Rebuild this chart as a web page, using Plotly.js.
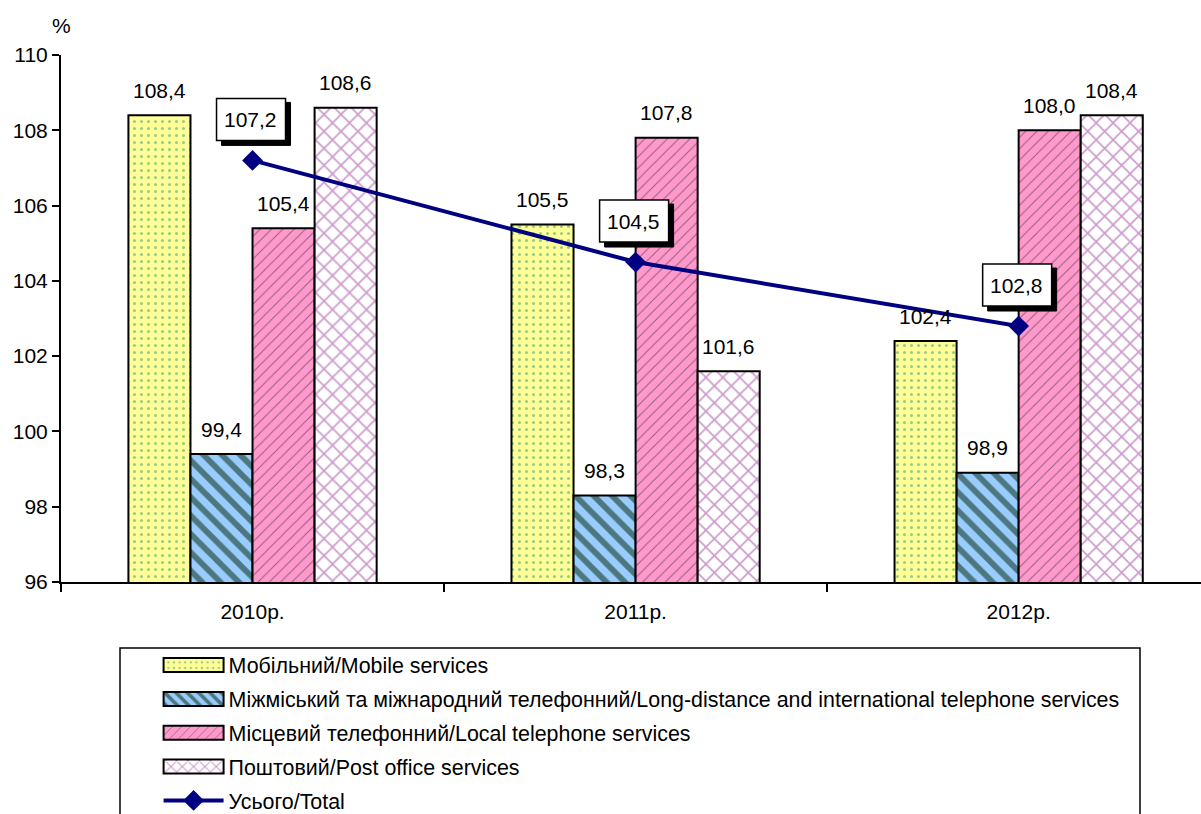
<!DOCTYPE html>
<html>
<head>
<meta charset="utf-8">
<script src="https://cdn.plot.ly/plotly-3.0.1.min.js"></script>
<style>html,body{margin:0;padding:0;background:#fff;}#chart{width:1201px;height:814px;}</style>
</head>
<body>
<div id="chart"></div>
<script>
// ---- data ----
const years = ['2010р.', '2011р.', '2012р.'];
const mobile = [108.4, 105.5, 102.4];
const longDistance = [99.4, 98.3, 98.9];
const local = [105.4, 107.8, 108.0];
const post = [108.6, 101.6, 108.4];
const total = [107.2, 104.5, 102.8];
const seriesNames = [
  'Мобільний/Mobile services',
  'Міжміський та міжнародний телефонний/Long-distance and international telephone services',
  'Місцевий телефонний/Local telephone services',
  'Поштовий/Post office services'
];
const totalName = 'Усього/Total';
const yTicks = [96, 98, 100, 102, 104, 106, 108, 110];

// ---- styles ----
const FONT = 'Liberation Sans, Arial, sans-serif';
const FS = 21;
const barW = 0.162;
const fmt = v => v.toFixed(1).replace('.', ',');
const styles = [
  {bg: '#FFFF99', fg: '#339966', shape: '.', size: 7, solidity: 0.15},
  {bg: '#99CCFF', fg: '#002200', shape: '\\', size: 13, solidity: 0.45},
  {bg: '#FF99CC', fg: '#222222', shape: '/', size: 8, solidity: 0.12},
  {bg: '#FFFFFF', fg: '#993399', shape: 'x', size: 12, solidity: 0.25}
];
const barSeries = [mobile, longDistance, local, post];

const traces = barSeries.map((vals, k) => ({
  type: 'bar',
  name: seriesNames[k],
  x: years,
  y: vals,
  legendgroup: 'g' + k,
  marker: {
    color: styles[k].bg,
    line: {color: '#000', width: 2},
    pattern: {shape: styles[k].shape, fgcolor: styles[k].fg, bgcolor: styles[k].bg,
              size: styles[k].size, solidity: styles[k].solidity, fillmode: 'overlay'}
  },
  hoverinfo: 'skip'
}));
traces.push({
  type: 'scatter', mode: 'lines+markers', name: totalName,
  x: years, y: total, legendgroup: 'g4',
  line: {color: '#000080', width: 4},
  marker: {symbol: 'diamond', size: 16, color: '#000080'},
  hoverinfo: 'skip'
});

const annotations = [];
const shapes = [];
barSeries.forEach((vals, k) => {
  vals.forEach((v, i) => {
    annotations.push({
      x: i + (k - 1.5) * barW, y: v, xref: 'x', yref: 'y',
      text: fmt(v), showarrow: false, yanchor: 'middle', yshift: 25,
      font: {family: FONT, size: FS, color: '#000'}
    });
  });
});
total.forEach((v, i) => {
  // shadow box
  shapes.push({
    type: 'rect', xref: 'x', yref: 'y', xsizemode: 'pixel', ysizemode: 'pixel',
    xanchor: i, yanchor: v, x0: -31, x1: 38, y0: 15, y1: 58,
    fillcolor: '#000', line: {color: '#000', width: 1}, layer: 'above'
  });
  // white box
  shapes.push({
    type: 'rect', xref: 'x', yref: 'y', xsizemode: 'pixel', ysizemode: 'pixel',
    xanchor: i, yanchor: v, x0: -36, x1: 33, y0: 20, y1: 62,
    fillcolor: '#fff', line: {color: '#000', width: 1.5}, layer: 'above'
  });
  annotations.push({
    x: i, y: v, xref: 'x', yref: 'y', text: fmt(v), showarrow: false,
    yanchor: 'middle', yshift: 41, xshift: -2,
    font: {family: FONT, size: FS, color: '#000'}
  });
});
annotations.push({
  xref: 'paper', yref: 'paper', x: 0, y: 1, xanchor: 'center', yanchor: 'bottom',
  yshift: 16, text: '%', showarrow: false, font: {family: FONT, size: FS, color: '#000'}
});
shapes.push({
  type: 'rect', xref: 'paper', yref: 'paper',
  x0: (120 - 61) / 1140, x1: (1140 - 61) / 1140,
  y0: -0.5, y1: -0.125, line: {color: '#000', width: 1.5}, fillcolor: 'rgba(0,0,0,0)', layer: 'below'
});

const layout = {
  width: 1201, height: 814,
  margin: {l: 61, r: 0, t: 55, b: 232, autoexpand: false},
  paper_bgcolor: '#fff', plot_bgcolor: '#fff',
  font: {family: FONT, size: FS, color: '#000'},
  barmode: 'group',
  bargap: 1 - 4 * barW,
  bargroupgap: 0,
  showlegend: true,
  xaxis: {
    type: 'category', range: [-0.5, 2.476], tickson: 'boundaries',
    ticks: 'outside', ticklen: 8, tickwidth: 2, tickcolor: '#000',
    ticklabelstandoff: 10,
    showline: true, linecolor: '#000', linewidth: 2, showgrid: false, zeroline: false,
    tickfont: {family: FONT, size: FS}, fixedrange: true
  },
  yaxis: {
    range: [96, 110], tickvals: yTicks, ticktext: yTicks.map(String),
    ticks: 'outside', ticklen: 7, tickwidth: 2, tickcolor: '#000',
    showline: true, linecolor: '#000', linewidth: 2, showgrid: false, zeroline: false,
    tickfont: {family: FONT, size: FS}, fixedrange: true
  },
  legend: {
    x: 0.0856, xanchor: 'left', y: -0.119, yanchor: 'top',
    orientation: 'v', bgcolor: 'rgba(0,0,0,0)', borderwidth: 0,
    font: {family: FONT, size: 21.4, color: '#000'},
    tracegroupgap: 3, itemwidth: 60, traceorder: 'grouped'
  },
  shapes: shapes,
  annotations: annotations
};

Plotly.newPlot('chart', traces, layout, {displayModeBar: false, staticPlot: true}).then(gd => {
  // widen the bar legend swatches to look like the reference's long rectangles
  gd.querySelectorAll('.legend .legendpoints path').forEach(p => {
    const cls = p.getAttribute('class') || '';
    if (cls.indexOf('legendbar') >= 0 || p.getAttribute('d') === 'M6,6H-6V-6H6Z') {
      p.setAttribute('d', 'M30,7H-30V-7H30Z');
    }
  });
});
</script>
</body>
</html>
